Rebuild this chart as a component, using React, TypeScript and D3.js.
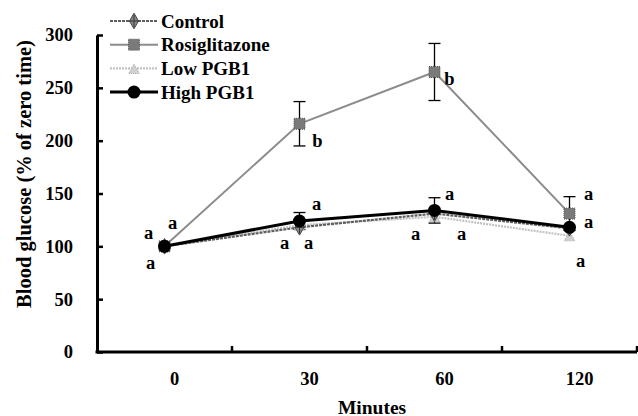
import * as React from 'react';
import * as d3 from 'd3';

const WIDTH = 638;
const HEIGHT = 416;
const FONT = '"Liberation Serif", "Times New Roman", serif';
const FS = 18.5;

const minutes = ['0', '30', '60', '120'];
const controlValues = [100, 118, 131, 117];
const rosiValues = [100, 216, 265, 131];
const lowValues = [100, 120, 128, 110];
const highValues = [100, 124, 134, 118];
const rosiErrors = [0, 21, 27, 16];
const highErrors = [0, 8, 12, 0];
const yTicks = [0, 50, 100, 150, 200, 250, 300];

// significance letters: [time index, value, letter, dx]
const letters: [number, number, string, number][] = [
  [0, 113, 'a', -16], [0, 122, 'a', 8], [0, 84, 'a', -14],
  [1, 200, 'b', 18], [1, 140, 'a', 17], [1, 103, 'a', -15], [1, 103, 'a', 9],
  [2, 258, 'b', 15], [2, 150, 'a', 15], [2, 112, 'a', -19], [2, 112, 'a', 27],
  [3, 150, 'a', 19], [3, 123, 'a', 19], [3, 86, 'a', 11],
];

const series = [
  { name: 'Control', values: controlValues, color: '#5f5f5f', width: 2.2, dash: '3,1', marker: 'diamond' },
  { name: 'Rosiglitazone', values: rosiValues, color: '#8c8c8c', width: 2, dash: null, marker: 'square' },
  { name: 'Low PGB1', values: lowValues, color: '#c2c2c2', width: 2.2, dash: '2,1', marker: 'cross' },
  { name: 'High PGB1', values: highValues, color: '#000', width: 3, dash: null, marker: 'circle' },
];

const margin = { left: 97, right: 1, top: 35, bottom: 64 };

function drawMarker(g, type, cx, cy) {
  if (type === 'circle') {
    g.append('circle').attr('cx', cx).attr('cy', cy).attr('r', 6.5).attr('fill', '#000');
  } else if (type === 'square') {
    g.append('rect').attr('x', cx - 5.5).attr('y', cy - 5.5).attr('width', 11).attr('height', 11)
      .attr('fill', '#7a7a7a').attr('stroke', '#555').attr('stroke-width', 1).attr('stroke-dasharray', '1,1');
  } else if (type === 'diamond') {
    const sym = d3.symbol().type(d3.symbolDiamond).size(70);
    g.append('path').attr('d', sym()).attr('transform', `translate(${cx},${cy})`)
      .attr('fill', '#8a8a8a').attr('stroke', '#444').attr('stroke-width', 1);
    g.append('path').attr('d', `M${cx - 5},${cy}H${cx + 5}M${cx},${cy - 6}V${cy + 6}`)
      .attr('stroke', '#333').attr('stroke-width', 1);
  } else {
    const sym = d3.symbol().type(d3.symbolTriangle).size(50);
    g.append('path').attr('d', sym()).attr('transform', `translate(${cx},${cy + 2})`)
      .attr('fill', '#d0d0d0').attr('stroke', '#aaa').attr('stroke-width', 1).attr('stroke-dasharray', '1,1');
  }
}

export default function App() {
  const ref = React.useRef(null);

  React.useEffect(() => {
    const svg = d3.select(ref.current);
    svg.selectAll('*').remove();

    const x = d3.scaleBand().domain(minutes).range([margin.left, WIDTH - margin.right]);
    const y = d3.scaleLinear().domain([0, 300]).range([HEIGHT - margin.bottom, margin.top]);
    const cx = (i: number) => x(minutes[i]) + x.bandwidth() / 2;

    // y axis
    const yAxis = svg.append('g')
      .attr('transform', `translate(${margin.left},0)`)
      .call(d3.axisLeft(y).tickValues(yTicks).tickSizeInner(-6).tickSizeOuter(0).tickPadding(24));
    yAxis.select('.domain').attr('stroke-width', 3).attr('stroke', '#000');
    yAxis.selectAll('.tick line').attr('stroke-width', 2.5);
    yAxis.selectAll('.tick text')
      .attr('font-family', FONT).attr('font-weight', 'bold').attr('font-size', FS).attr('fill', '#000');

    // x axis
    const x0 = y(0);
    const xg = svg.append('g');
    xg.append('line').attr('x1', margin.left - 1.5).attr('x2', WIDTH - margin.right)
      .attr('y1', x0).attr('y2', x0).attr('stroke', '#000').attr('stroke-width', 3);
    xg.selectAll('.xt').data(minutes).enter().append('line')
      .attr('x1', d => x(d) + x.bandwidth()).attr('x2', d => x(d) + x.bandwidth())
      .attr('y1', x0).attr('y2', x0 - 6).attr('stroke', '#000').attr('stroke-width', 2.5);
    xg.selectAll('.xl').data(minutes).enter().append('text')
      .attr('x', d => x(d) + x.bandwidth() / 2 + 10).attr('y', x0 + 27)
      .attr('dominant-baseline', 'central').attr('text-anchor', 'middle')
      .attr('font-family', FONT).attr('font-weight', 'bold').attr('font-size', FS)
      .text(d => d);

    svg.append('text').attr('x', 372).attr('y', 407)
      .attr('dominant-baseline', 'central').attr('text-anchor', 'middle')
      .attr('font-family', FONT).attr('font-weight', 'bold').attr('font-size', 19.5)
      .text('Minutes');

    svg.append('text').attr('transform', 'translate(24,174) rotate(-90)')
      .attr('dominant-baseline', 'central').attr('text-anchor', 'middle')
      .attr('font-family', FONT).attr('font-weight', 'bold').attr('font-size', 20.5)
      .text('Blood glucose (% of zero time)');

    // lines
    const line = d3.line<number>().x((_, i) => cx(i)).y(d => y(d));
    const order = [2, 0, 1, 3];
    order.forEach(si => {
      const s = series[si];
      svg.append('path').attr('d', line(s.values)).attr('fill', 'none')
        .attr('stroke', s.color).attr('stroke-width', s.width)
        .attr('stroke-dasharray', s.dash);
    });

    // error bars
    const drawErr = (vals, errs) => {
      vals.forEach((v, i) => {
        if (!errs[i]) return;
        const xx = cx(i);
        const eg = svg.append('g').attr('stroke', '#000').attr('stroke-width', 1.3);
        eg.append('line').attr('x1', xx).attr('x2', xx).attr('y1', y(v - errs[i])).attr('y2', y(v + errs[i]));
        [v - errs[i], v + errs[i]].forEach(e => {
          eg.append('line').attr('x1', xx - 6).attr('x2', xx + 6).attr('y1', y(e)).attr('y2', y(e));
        });
      });
    };
    drawErr(rosiValues, rosiErrors);
    drawErr(highValues, highErrors);

    // markers
    order.forEach(si => {
      const s = series[si];
      s.values.forEach((v, i) => drawMarker(svg, s.marker, cx(i), y(v)));
    });

    // letters
    svg.selectAll('.let').data(letters).enter().append('text')
      .attr('x', d => cx(d[0]) + d[3]).attr('y', d => y(d[1]))
      .attr('dominant-baseline', 'central').attr('text-anchor', 'middle')
      .attr('font-family', FONT).attr('font-weight', 'bold').attr('font-size', FS)
      .text(d => d[2]);

    // legend
    const lg = svg.append('g');
    series.forEach((s, i) => {
      const ly = 21 + i * 23.7;
      lg.append('line').attr('x1', 110).attr('x2', 158).attr('y1', ly).attr('y2', ly)
        .attr('stroke', s.color).attr('stroke-width', s.width).attr('stroke-dasharray', s.dash);
      drawMarker(lg, s.marker, 134, ly);
      lg.append('text').attr('x', 161).attr('y', ly)
        .attr('dominant-baseline', 'central')
        .attr('font-family', FONT).attr('font-weight', 'bold').attr('font-size', 19)
        .text(s.name);
    });
  }, []);

  return (
    <svg ref={ref} width={WIDTH} height={HEIGHT}
      style={{ position: 'absolute', left: 0, top: 0, background: '#fff' }} />
  );
}
